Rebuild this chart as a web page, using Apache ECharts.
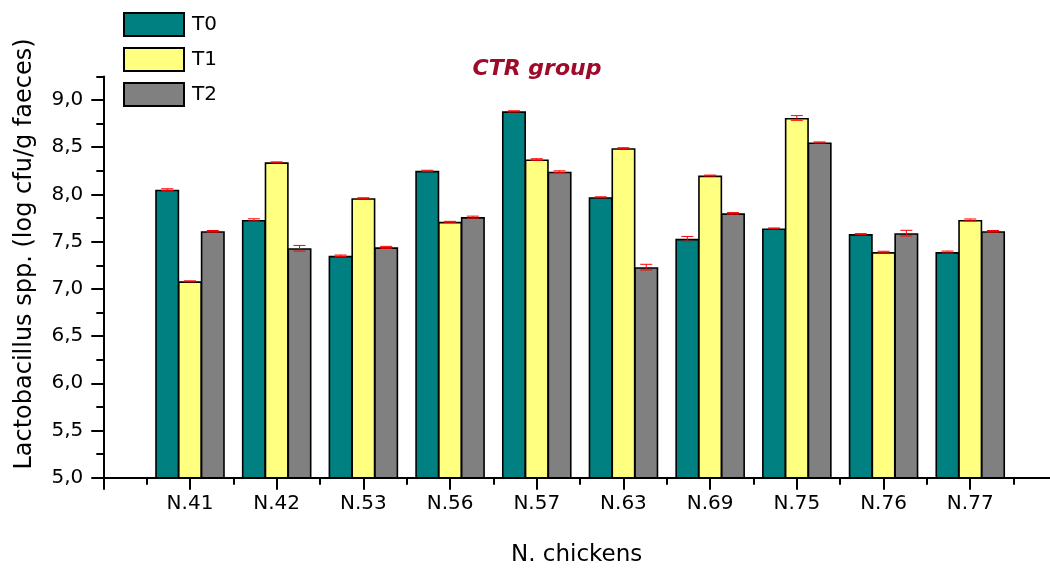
<!DOCTYPE html>
<html>
<head>
<meta charset="utf-8">
<title>CTR group</title>
<script src="https://cdn.jsdelivr.net/npm/echarts@6/dist/echarts.min.js"></script>
<style>
  html, body { margin: 0; padding: 0; background: #ffffff; }
  #chart { width: 1050px; height: 576px; }
</style>
</head>
<body>
<div id="chart"></div>
<script>
// Lactobacillus counts per chicken at three sampling times
const chickens = ['N.41', 'N.42', 'N.53', 'N.56', 'N.57', 'N.63', 'N.69', 'N.75', 'N.76', 'N.77'];
const seriesNames = ['T0', 'T1', 'T2'];
const t0 = [8.05, 7.73, 7.35, 8.25, 8.88, 7.97, 7.53, 7.64, 7.58, 7.39];
const t1 = [7.08, 8.34, 7.96, 7.71, 8.37, 8.49, 8.20, 8.81, 7.39, 7.73];
const t2 = [7.61, 7.43, 7.44, 7.76, 8.24, 7.23, 7.80, 8.55, 7.59, 7.61];
const t0Err = [0.010, 0.012, 0.008, 0.006, 0.006, 0.005, 0.025, 0.005, 0.005, 0.010];
const t1Err = [0.005, 0.005, 0.005, 0.005, 0.008, 0.005, 0.005, 0.025, 0.008, 0.010];
const t2Err = [0.008, 0.030, 0.010, 0.010, 0.010, 0.030, 0.008, 0.006, 0.030, 0.008];
const yTickValues = [5.0, 5.5, 6.0, 6.5, 7.0, 7.5, 8.0, 8.5, 9.0];

const colors = ['#008080', '#FFFF80', '#808080'];
const font = 'DejaVu Sans';
const barWidth = 24;

const values = [t0, t1, t2];
const errors = [t0Err, t1Err, t2Err];

// bars in a group share their edges, so each one overlaps its neighbour by one border width
const barSeries = seriesNames.map((name, k) => ({
  name: name,
  type: 'bar',
  xAxisIndex: 0,
  yAxisIndex: 0,
  barWidth: barWidth,
  barGap: '-5%',
  itemStyle: { color: colors[k], borderColor: '#000000', borderWidth: 1.6 },
  data: values[k].map((v, i) => [i + 1, v]),
  z: 2
}));

// error bars: one custom series, bars offset left/centre/right within each group
const errData = [];
values.forEach((arr, k) => {
  arr.forEach((v, i) => errData.push([i + 1, v, errors[k][i], k]));
});

const barStep = barWidth * 0.95;

const errSeries = {
  type: 'custom',
  xAxisIndex: 0,
  yAxisIndex: 0,
  z: 5,
  silent: true,
  data: errData,
  renderItem: function (params, api) {
    const x = api.value(0), v = api.value(1), e = api.value(2), k = api.value(3);
    const hi = api.coord([x, v + e]);
    const lo = api.coord([x, v - e]);
    const cx = hi[0] + (k - 1) * barStep;
    const cap = 6;
    const style = { stroke: '#FF0000', lineWidth: 1 };
    return {
      type: 'group',
      children: [
        { type: 'line', shape: { x1: cx, y1: hi[1], x2: cx, y2: lo[1] }, style: style },
        { type: 'line', shape: { x1: cx - cap, y1: hi[1], x2: cx + cap, y2: hi[1] }, style: style },
        { type: 'line', shape: { x1: cx - cap, y1: lo[1], x2: cx + cap, y2: lo[1] }, style: style }
      ]
    };
  }
};

const chart = echarts.init(document.getElementById('chart'), null, { renderer: 'canvas' });

chart.setOption({
  backgroundColor: '#ffffff',
  animation: false,
  textStyle: { fontFamily: font },
  title: {
    text: 'CTR group',
    left: 532,
    top: 53,
    textAlign: 'center',
    textStyle: { color: '#9E0A2A', fontSize: 22, fontWeight: 'bold', fontStyle: 'italic', fontFamily: font }
  },
  legend: {
    orient: 'vertical',
    left: 123,
    top: 12,
    padding: 0,
    itemWidth: 60,
    itemHeight: 23,
    itemGap: 10,
    icon: 'rect',
    data: seriesNames,
    textStyle: { color: '#000000', fontSize: 20, fontFamily: font, padding: [0, 0, 0, 3] }
  },
  grid: { left: 103.3, right: 0, top: 76.4, bottom: 98.3, containLabel: false },
  xAxis: [{
    type: 'value',
    min: 0,
    max: 10.92,
    interval: 1,
    name: 'N. chickens',
    nameLocation: 'middle',
    nameGap: 66,
    nameTextStyle: { color: '#000000', fontSize: 23, fontFamily: font },
    axisLine: { show: true, lineStyle: { color: '#000000', width: 2 } },
    axisTick: { show: true, customValues: [0, 1, 2, 3, 4, 5, 6, 7, 8, 9, 10], length: 12, lineStyle: { color: '#000000', width: 2 } },
    minorTick: { show: true, splitNumber: 2, length: 7, lineStyle: { color: '#000000', width: 2 } },
    axisLabel: {
      customValues: chickens.map((c, i) => i + 1),
      formatter: v => chickens[Math.round(v) - 1] || '',
      color: '#000000',
      fontSize: 20,
      margin: 16,
      fontFamily: font
    },
    splitLine: { show: false }
  }],
  yAxis: [{
    type: 'value',
    min: 5,
    max: 9.2501,
    interval: 0.5,
    axisLine: { show: true, lineStyle: { color: '#000000', width: 2 } },
    axisTick: { show: true, customValues: yTickValues, length: 12, lineStyle: { color: '#000000', width: 2 } },
    minorTick: { show: true, splitNumber: 2, length: 7, lineStyle: { color: '#000000', width: 2 } },
    axisLabel: {
      customValues: yTickValues,
      formatter: v => v.toFixed(1).replace('.', ','),
      color: '#000000',
      fontSize: 20,
      margin: 20,
      fontFamily: font
    },
    splitLine: { show: false }
  }],
  graphic: [{
    type: 'text',
    x: 25,
    y: 254,
    rotation: Math.PI / 2,
    style: {
      text: 'Lactobacillus spp. (log cfu/g faeces)',
      fill: '#000000',
      fontSize: 24,
      fontFamily: font,
      align: 'center',
      verticalAlign: 'middle'
    }
  }],
  series: barSeries.concat([errSeries])
});
</script>
</body>
</html>
